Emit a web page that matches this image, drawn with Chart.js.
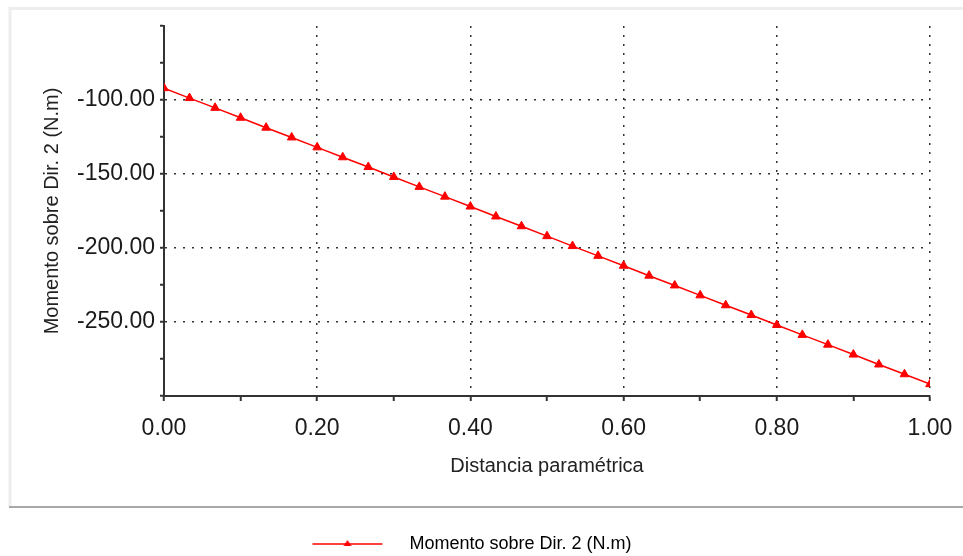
<!DOCTYPE html>
<html>
<head>
<meta charset="utf-8">
<title>Momento sobre Dir. 2</title>
<script src="https://cdn.jsdelivr.net/npm/chart.js@4.4.1/dist/chart.umd.min.js"></script>
<style>
  html, body { margin: 0; padding: 0; background: #fff; }
  #wrap { position: relative; width: 963px; height: 556px; }
</style>
</head>
<body>
<div id="wrap"><canvas id="chart" width="963" height="556"></canvas></div>
<script>
// parametric distance along the member
const distancia = [
  0.0000, 0.0333, 0.0667, 0.1000, 0.1333, 0.1667, 0.2000, 0.2333, 0.2667, 0.3000,
  0.3333, 0.3667, 0.4000, 0.4333, 0.4667, 0.5000, 0.5333, 0.5667, 0.6000, 0.6333,
  0.6667, 0.7000, 0.7333, 0.7667, 0.8000, 0.8333, 0.8667, 0.9000, 0.9333, 0.9667,
  1.0000
];
// moment values (N.m)
const momento = [
  -92.0, -98.7, -105.3, -112.0, -118.7, -125.3, -132.0, -138.7, -145.3, -152.0,
  -158.7, -165.3, -172.0, -178.7, -185.3, -192.0, -198.7, -205.3, -212.0, -218.7,
  -225.3, -232.0, -238.7, -245.3, -252.0, -258.7, -265.3, -272.0, -278.7, -285.3,
  -292.0
];
const yLabelValues = [-100, -150, -200, -250];
const xLabelValues = [0, 0.2, 0.4, 0.6, 0.8, 1.0];

const serieNombre = "Momento sobre Dir. 2 (N.m)";
const RED = "#ff0000";

// legend symbol: red line with a triangle in the middle
const legendIcon = document.createElement("canvas");
legendIcon.width = 102;
legendIcon.height = 12;
(function () {
  const c = legendIcon.getContext("2d");
  c.strokeStyle = RED;
  c.lineWidth = 1.5;
  c.beginPath();
  c.moveTo(14, 6);
  c.lineTo(84, 6);
  c.stroke();
  c.fillStyle = RED;
  c.beginPath();
  c.moveTo(49, 2);
  c.lineTo(53, 8);
  c.lineTo(45, 8);
  c.closePath();
  c.fill();
})();

const panelPlugin = {
  id: "panel",
  beforeDraw(chart) {
    const ctx = chart.ctx;
    ctx.save();
    ctx.fillStyle = "#ffffff";
    ctx.fillRect(0, 0, chart.width, chart.height);
    ctx.strokeStyle = "#ededed";
    ctx.lineWidth = 3;
    ctx.beginPath();
    ctx.moveTo(10, 507);
    ctx.lineTo(10, 8.5);
    ctx.lineTo(chart.width, 8.5);
    ctx.stroke();
    ctx.strokeStyle = "#a8a8a8";
    ctx.lineWidth = 2;
    ctx.beginPath();
    ctx.moveTo(9, 507);
    ctx.lineTo(chart.width, 507);
    ctx.stroke();
    ctx.restore();
  }
};

const isLabelX = (v) => xLabelValues.some((t) => Math.abs(t - v) < 1e-6);
const isLabelY = (v) => yLabelValues.some((t) => Math.abs(t - v) < 1e-6);

new Chart(document.getElementById("chart"), {
  type: "line",
  data: {
    datasets: [
      {
        label: serieNombre,
        data: distancia.map((d, i) => ({ x: d, y: momento[i] })),
        borderColor: RED,
        backgroundColor: RED,
        borderWidth: 1.5,
        pointStyle: "triangle",
        pointRadius: 5,
        pointBackgroundColor: RED,
        pointBorderColor: RED,
        pointBorderWidth: 1,
        tension: 0
      }
    ]
  },
  options: {
    responsive: false,
    animation: false,
    layout: { padding: { left: 0, right: 33, top: 26, bottom: -7 } },
    plugins: {
      legend: {
        position: "bottom",
        labels: {
          usePointStyle: true,
          pointStyleWidth: 102,
          padding: 0,
          color: "#222",
          font: { family: "'Liberation Sans', Arial, sans-serif", size: 18 },
          generateLabels: (chart) => [
            {
              text: serieNombre,
              pointStyle: legendIcon,
              fillStyle: RED,
              strokeStyle: RED,
              lineWidth: 0,
              datasetIndex: 0,
              hidden: false
            }
          ]
        }
      },
      tooltip: { enabled: false }
    },
    scales: {
      x: {
        type: "linear",
        min: 0,
        max: 1,
        afterFit: (s) => { s.height = 139; s.paddingRight = 0; s.paddingLeft = 0; },
        ticks: {
          stepSize: 0.1,
          autoSkip: false,
          maxRotation: 0,
          padding: 14,
          color: "#1a1a1a",
          font: { family: "'Liberation Sans', Arial, sans-serif", size: 23 },
          callback: (v) => (isLabelX(v) ? v.toFixed(2) : "")
        },
        grid: {
          drawOnChartArea: true,
          tickLength: 5,
          tickColor: "#333",
          tickWidth: 2,
          lineWidth: 1.5,
          color: (ctx) => (ctx.tick && isLabelX(ctx.tick.value) && ctx.tick.value > 0 ? "#333" : "rgba(0,0,0,0)")
        },
        border: { display: true, color: "#333", width: 2, dash: [2, 7] },
        title: {
          display: true,
          text: "Distancia paramétrica",
          color: "#222",
          font: { family: "'Liberation Sans', Arial, sans-serif", size: 20 },
          padding: { top: 4, bottom: 57 }
        }
      },
      y: {
        type: "linear",
        min: -300,
        max: -50,
        afterFit: (s) => { s.width = 164; },
        ticks: {
          stepSize: 25,
          autoSkip: false,
          padding: 5,
          color: "#1a1a1a",
          font: { family: "'Liberation Sans', Arial, sans-serif", size: 23 },
          callback: (v) => (isLabelY(v) ? v.toFixed(2) : "")
        },
        grid: {
          tickLength: 4,
          tickColor: "#333",
          tickWidth: 2,
          lineWidth: 1.5,
          color: (ctx) => (ctx.tick && isLabelY(ctx.tick.value) ? "#333" : "rgba(0,0,0,0)")
        },
        border: { display: true, color: "#333", width: 2, dash: [2, 7] },
        title: {
          display: true,
          text: serieNombre,
          color: "#222",
          font: { family: "'Liberation Sans', Arial, sans-serif", size: 20 },
          padding: { top: 40, bottom: 4 }
        }
      }
    }
  },
  plugins: [panelPlugin]
});
</script>
</body>
</html>
